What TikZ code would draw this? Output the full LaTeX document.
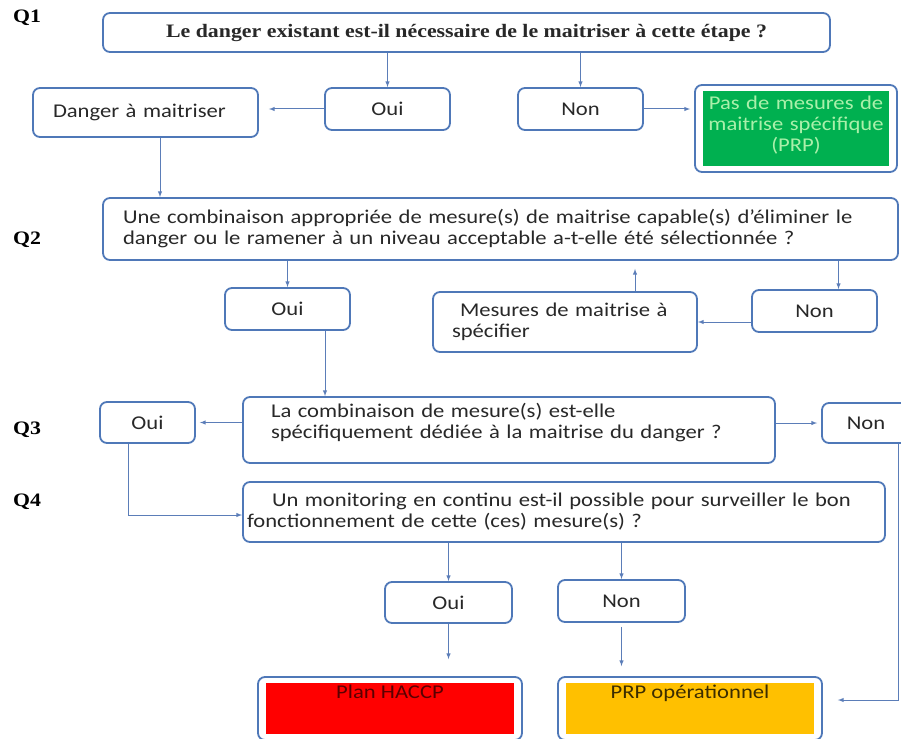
\documentclass[tikz,border=0pt]{standalone}
\usepackage{fontspec}
\setsansfont{Carlito}[FakeStretch=1.16]
\newfontfamily\timesf{Liberation Serif}[FakeStretch=1.15]
\usetikzlibrary{arrows}

\definecolor{bord}{RGB}{79,120,184}
\definecolor{lin}{RGB}{91,125,184}
\definecolor{txt}{RGB}{40,40,40}
\definecolor{vert}{RGB}{0,176,80}
\definecolor{vertclair}{RGB}{170,240,170}
\definecolor{rouge}{RGB}{255,0,0}
\definecolor{jaune}{RGB}{255,192,0}

\tikzset{
  boite/.style={draw=bord, line width=1.8pt, rounded corners=7pt, fill=white,
    inner sep=0pt, text=txt, font=\sffamily\fontsize{19.5}{21}\selectfont},
  rempli/.style={boite, path picture={\fill[#1, sharp corners]
    ([shift={(8pt,6pt)}]path picture bounding box.south west) rectangle
    ([shift={(-8pt,-6pt)}]path picture bounding box.north east);}},
  fl/.style={->, >=latex, draw=lin, line width=1pt},
  qlab/.style={font=\timesf\bfseries\fontsize{19}{19}\selectfont, text=black}
}

\begin{document}
\begin{tikzpicture}[x=1pt, y=-1pt]
\useasboundingbox (0,0) rectangle (901,738);
\clip (0,0) rectangle (901,738);

\node[qlab] (lq1) at (27,18) {Q1};
\node[qlab] (lq2) at (27,240) {Q2};
\node[qlab] (lq3) at (27,430) {Q3};
\node[qlab] (lq4) at (27,502) {Q4};

% Q1
\node[boite, minimum width=727, minimum height=39, font=\timesf\bfseries\fontsize{19}{20}\selectfont]
  (q1) at (466.5,32.5) {Le danger existant est-il nécessaire de le maitriser à cette étape ?};
\node[boite, minimum width=125, minimum height=42] (oui1) at (387.5,109) {Oui};
\node[boite, minimum width=125, minimum height=42] (non1) at (580.5,109) {Non};
\node[boite, minimum width=225, minimum height=49, text width=185, inner xsep=20, align=left]
  (danger) at (145.5,112.5) {Danger à maitriser};
\node[rempli=vert, minimum width=202, minimum height=87, text width=190, align=center,
  text=vertclair, text depth=52pt] (prp) at (796,128.5)
  {Pas de mesures de\\maitrise spécifique\\(PRP)};

% Q2
\node[boite, minimum width=795, minimum height=62, text width=755, inner xsep=20, align=left]
  (q2) at (500.5,229) {Une combinaison appropriée de mesure(s) de maitrise capable(s) d'éliminer le\\danger ou le ramener à un niveau acceptable a-t-elle été sélectionnée ?};
\node[boite, minimum width=125, minimum height=42] (oui2) at (287.5,309) {Oui};
\node[boite, minimum width=125, minimum height=42] (non2) at (814.5,311) {Non};
\node[boite, minimum width=264, minimum height=60, text width=226, inner xsep=19, align=left]
  (mes) at (565,322) {\hspace*{8pt}Mesures de maitrise à\\spécifier};

% Q3
\node[boite, minimum width=532, minimum height=66, text width=476, inner xsep=28, align=left,
  text depth=40pt] (q3) at (509,430)
  {La combinaison de mesure(s) est-elle\\spécifiquement dédiée à la maitrise du danger ?};
\node[boite, minimum width=95, minimum height=41] (oui3) at (147.5,422.5) {Oui};
\node[boite, minimum width=88, minimum height=40] (non3) at (866,423) {Non};

% Q4
\node[boite, minimum width=642, minimum height=60, text width=634, inner xsep=4, align=left]
  (q4) at (564,512) {\hspace*{25pt}Un monitoring en continu est-il possible pour surveiller le bon\\fonctionnement de cette (ces) mesure(s) ?};
\node[boite, minimum width=127, minimum height=41] (oui4) at (448.5,602.5) {Oui};
\node[boite, minimum width=127, minimum height=42] (non4) at (621.5,601) {Non};
\node[rempli=rouge, minimum width=264, minimum height=63, text={rgb,255:red,90;green,0;blue,0},
  text depth=33pt] (haccp) at (390,708.5) {Plan HACCP};
\node[rempli=jaune, minimum width=264, minimum height=63, text={rgb,255:red,60;green,45;blue,0},
  text depth=33pt] (prpop) at (690,708.5) {PRP opérationnel};

% liaisons
\draw[fl] (oui1.north |- q1.south) -- (oui1.north);
\draw[fl] (non1.north |- q1.south) -- (non1.north);
\draw[fl, shorten >=10pt] (oui1.west) -- (oui1.west -| danger.east);
\draw[fl, shorten >=4pt] (non1.east) -- (non1.east -| prp.west);
\draw[fl] ([xshift=14.5]danger.south) -- ([xshift=14.5]danger.south |- q2.north);

\draw[fl] (oui2.north |- q2.south) -- (oui2.north);
\draw[fl] ([xshift=24]non2.north |- q2.south) -- ([xshift=24]non2.north);
\draw[fl] ([yshift=-11]non2.west) -- ([yshift=-11]non2.west -| mes.east);
\draw[fl, shorten >=8pt] ([xshift=70]mes.north) -- ([xshift=70]mes.north |- q2.south);
\draw[fl] ([xshift=37.5]oui2.south) -- ([xshift=37.5]oui2.south |- q3.north);

\draw[fl, shorten >=4pt] (oui3.east -| q3.west) -- (oui3.east);
\draw[fl, shorten >=4pt] (non3.west -| q3.east) -- (non3.west);
\draw[fl] ([xshift=-19.5]oui3.south) |- ([yshift=-3]q4.west);
\draw[fl, shorten >=15pt] ([xshift=32]non3.south) |- ([yshift=8.5]prpop.east);

\draw[fl] (oui4.north |- q4.south) -- (oui4.north);
\draw[fl] (non4.north |- q4.south) -- (non4.north);
\draw[fl, shorten >=17pt] (oui4.south) -- (oui4.south |- haccp.north);
\draw[fl, shorten <=4pt, shorten >=10pt] (non4.south) -- (non4.south |- prpop.north);

\end{tikzpicture}
\end{document}
